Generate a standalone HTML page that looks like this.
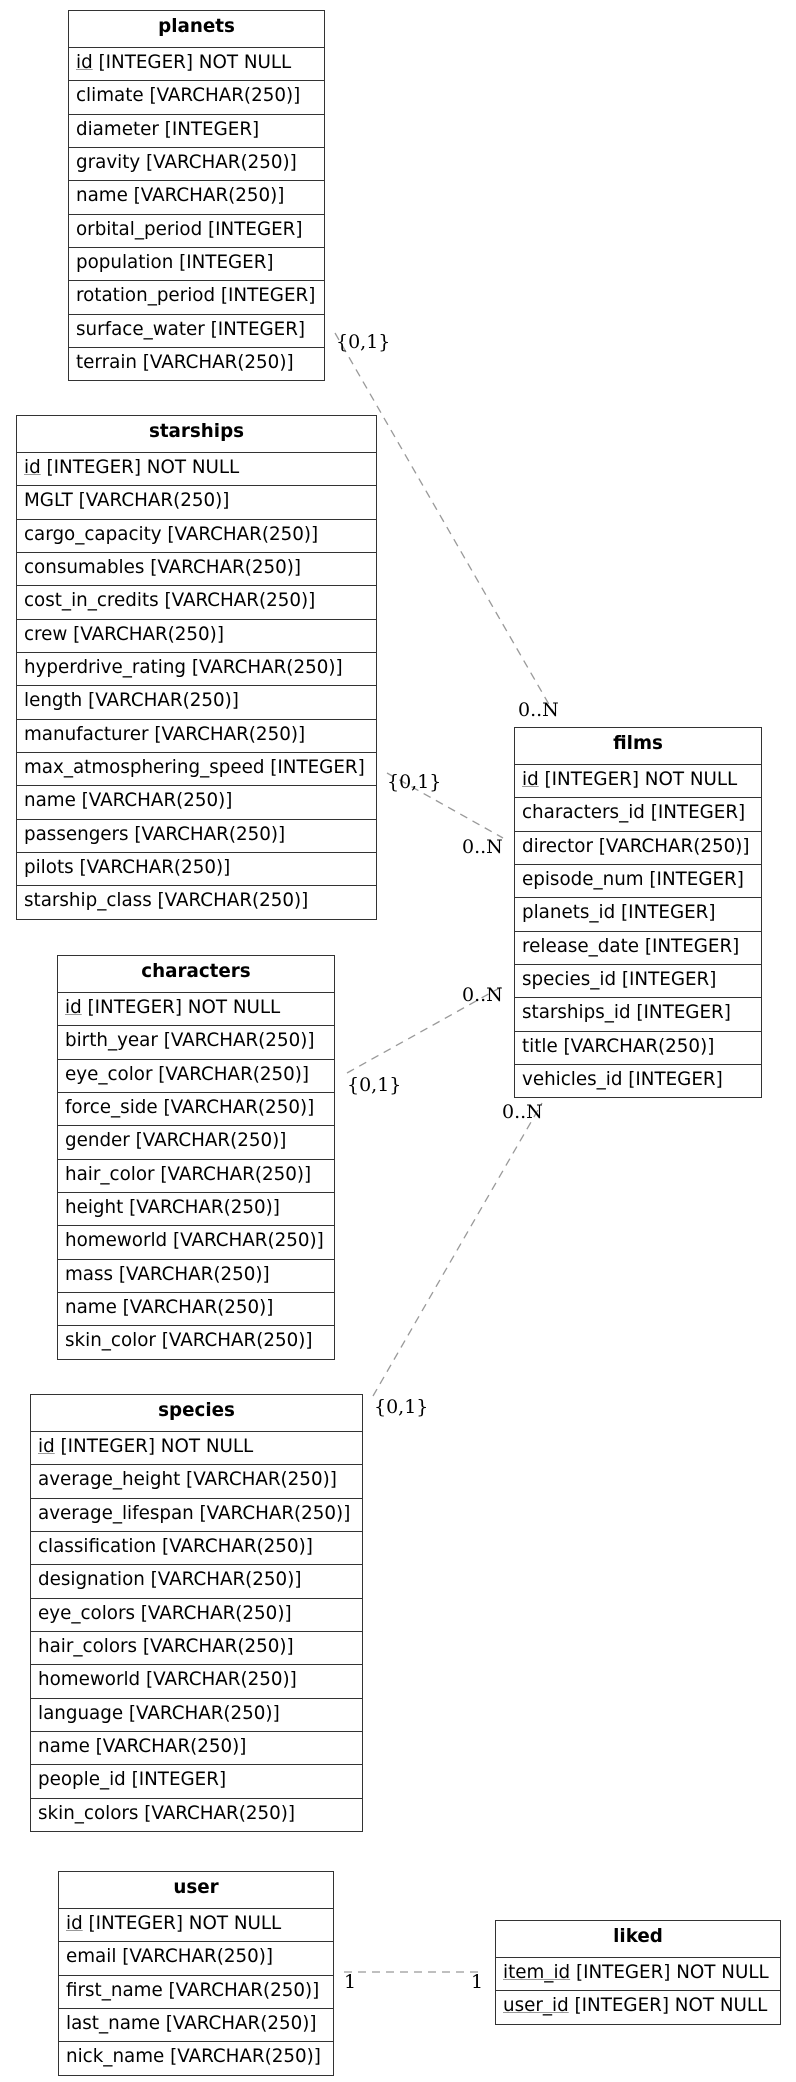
<!DOCTYPE html>
<html><head><meta charset="utf-8"><style>
body{margin:0;width:796px;height:2082px;background:#fff;position:relative;overflow:hidden;font-family:"DejaVu Sans","Liberation Sans",sans-serif;}
.t{position:absolute;border:1.5px solid #333;box-sizing:border-box;background:#fff;}
.h{height:36px;line-height:32px;text-align:center;font-weight:bold;font-size:18.3px;color:#000;}
.r{height:33.33px;box-sizing:border-box;border-top:1.5px solid #333;line-height:30px;padding-left:7px;font-size:18.3px;white-space:nowrap;color:#000;}
u{text-decoration-color:#999;}
svg{position:absolute;left:0;top:0;}
svg text{font-family:"DejaVu Serif","Liberation Serif",serif;font-size:19px;fill:#000;}
</style></head><body>
<svg width="796" height="2082">
<g stroke="#999" stroke-width="1.3" stroke-dasharray="8,6" fill="none">
<line x1="335" y1="333" x2="558" y2="720"/>
<line x1="387" y1="773" x2="503" y2="838"/>
<line x1="347" y1="1073" x2="503" y2="986"/>
<line x1="373" y1="1396" x2="542" y2="1103"/>
<line x1="344" y1="1972" x2="481" y2="1972"/>
</g>
<text x="336" y="348">{0,1}</text>
<text x="518" y="716">0..N</text>
<text x="387" y="788">{0,1}</text>
<text x="462" y="853">0..N</text>
<text x="462" y="1001">0..N</text>
<text x="347" y="1091">{0,1}</text>
<text x="502" y="1118">0..N</text>
<text x="374" y="1413">{0,1}</text>
<text x="344" y="1988">1</text>
<text x="471" y="1988">1</text>
</svg>

<div class="t" style="left:68px;top:10px;width:257px;">
<div class="h">planets</div>
<div class="r"><u>id</u> [INTEGER] NOT NULL</div>
<div class="r">climate [VARCHAR(250)]</div>
<div class="r">diameter [INTEGER]</div>
<div class="r">gravity [VARCHAR(250)]</div>
<div class="r">name [VARCHAR(250)]</div>
<div class="r">orbital_period [INTEGER]</div>
<div class="r">population [INTEGER]</div>
<div class="r">rotation_period [INTEGER]</div>
<div class="r">surface_water [INTEGER]</div>
<div class="r">terrain [VARCHAR(250)]</div>
</div>

<div class="t" style="left:16px;top:415px;width:361px;">
<div class="h">starships</div>
<div class="r"><u>id</u> [INTEGER] NOT NULL</div>
<div class="r">MGLT [VARCHAR(250)]</div>
<div class="r">cargo_capacity [VARCHAR(250)]</div>
<div class="r">consumables [VARCHAR(250)]</div>
<div class="r">cost_in_credits [VARCHAR(250)]</div>
<div class="r">crew [VARCHAR(250)]</div>
<div class="r">hyperdrive_rating [VARCHAR(250)]</div>
<div class="r">length [VARCHAR(250)]</div>
<div class="r">manufacturer [VARCHAR(250)]</div>
<div class="r">max_atmosphering_speed [INTEGER]</div>
<div class="r">name [VARCHAR(250)]</div>
<div class="r">passengers [VARCHAR(250)]</div>
<div class="r">pilots [VARCHAR(250)]</div>
<div class="r">starship_class [VARCHAR(250)]</div>
</div>

<div class="t" style="left:514px;top:727px;width:248px;">
<div class="h">films</div>
<div class="r"><u>id</u> [INTEGER] NOT NULL</div>
<div class="r">characters_id [INTEGER]</div>
<div class="r">director [VARCHAR(250)]</div>
<div class="r">episode_num [INTEGER]</div>
<div class="r">planets_id [INTEGER]</div>
<div class="r">release_date [INTEGER]</div>
<div class="r">species_id [INTEGER]</div>
<div class="r">starships_id [INTEGER]</div>
<div class="r">title [VARCHAR(250)]</div>
<div class="r">vehicles_id [INTEGER]</div>
</div>

<div class="t" style="left:57px;top:955px;width:278px;">
<div class="h">characters</div>
<div class="r"><u>id</u> [INTEGER] NOT NULL</div>
<div class="r">birth_year [VARCHAR(250)]</div>
<div class="r">eye_color [VARCHAR(250)]</div>
<div class="r">force_side [VARCHAR(250)]</div>
<div class="r">gender [VARCHAR(250)]</div>
<div class="r">hair_color [VARCHAR(250)]</div>
<div class="r">height [VARCHAR(250)]</div>
<div class="r">homeworld [VARCHAR(250)]</div>
<div class="r">mass [VARCHAR(250)]</div>
<div class="r">name [VARCHAR(250)]</div>
<div class="r">skin_color [VARCHAR(250)]</div>
</div>

<div class="t" style="left:30px;top:1394px;width:333px;">
<div class="h">species</div>
<div class="r"><u>id</u> [INTEGER] NOT NULL</div>
<div class="r">average_height [VARCHAR(250)]</div>
<div class="r">average_lifespan [VARCHAR(250)]</div>
<div class="r">classification [VARCHAR(250)]</div>
<div class="r">designation [VARCHAR(250)]</div>
<div class="r">eye_colors [VARCHAR(250)]</div>
<div class="r">hair_colors [VARCHAR(250)]</div>
<div class="r">homeworld [VARCHAR(250)]</div>
<div class="r">language [VARCHAR(250)]</div>
<div class="r">name [VARCHAR(250)]</div>
<div class="r">people_id [INTEGER]</div>
<div class="r">skin_colors [VARCHAR(250)]</div>
</div>

<div class="t" style="left:58px;top:1871px;width:276px;">
<div class="h">user</div>
<div class="r"><u>id</u> [INTEGER] NOT NULL</div>
<div class="r">email [VARCHAR(250)]</div>
<div class="r">first_name [VARCHAR(250)]</div>
<div class="r">last_name [VARCHAR(250)]</div>
<div class="r">nick_name [VARCHAR(250)]</div>
</div>

<div class="t" style="left:495px;top:1920px;width:286px;">
<div class="h">liked</div>
<div class="r"><u>item_id</u> [INTEGER] NOT NULL</div>
<div class="r"><u>user_id</u> [INTEGER] NOT NULL</div>
</div>
</body></html>
